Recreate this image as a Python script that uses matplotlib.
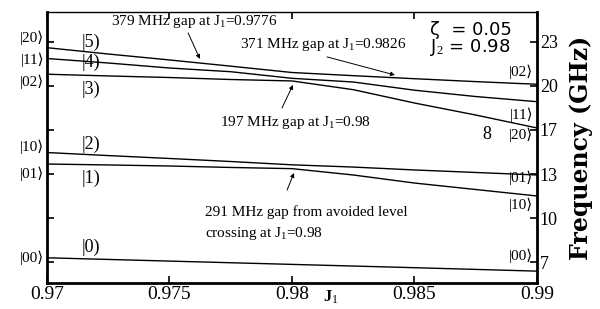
import matplotlib
matplotlib.use("Agg")
import matplotlib.pyplot as plt
import numpy as np

# J1 sample points
j1 = [0.970, 0.9725, 0.975, 0.9775, 0.980, 0.9825, 0.985, 0.9875, 0.990]

# eigen-levels (GHz)
lev5 = [22.90, 22.42, 21.97, 21.50, 21.02, 20.78, 20.55, 20.33, 20.13]
lev4 = [22.08, 21.74, 21.36, 21.08, 20.58, 20.30, 19.68, 19.20, 18.81]
lev3 = [20.89, 20.76, 20.64, 20.49, 20.38, 19.72, 18.71, 17.80, 16.82]
lev2 = [14.96, 14.73, 14.51, 14.28, 14.03, 13.86, 13.64, 13.45, 13.26]
lev1 = [14.09, 14.02, 13.94, 13.83, 13.74, 13.26, 12.65, 12.16, 11.67]
j1_0 = [0.970, 0.975, 0.980, 0.985, 0.990]
lev0 = [6.99, 6.74, 6.49, 6.24, 5.98]

# right axis ticks (GHz) and their labels
ytick_pos = [20/3, 10, 40/3, 50/3, 20, 70/3]
ytick_lab = ["7", "10", "13", "17", "20", "23"]
xticks = [0.97, 0.975, 0.98, 0.985, 0.99]
xtick_lab = ["0.97", "0.975", "0.98", "0.985", "0.99"]

# state labels
left_out = ["|20⟩", "|11⟩", "|02⟩", "|10⟩", "|01⟩", "|00⟩"]
left_out_y = [23.64, 21.97, 20.30, 15.38, 13.33, 6.97]
left_in = ["|5)", "|4)", "|3)", "|2)", "|1)", "|0)"]
left_in_y = [23.33, 21.82, 19.77, 15.61, 13.03, 7.80]
right_in = ["|02⟩", "|11⟩", "|20⟩", "|01⟩", "|10⟩", "|00⟩"]
right_in_y = [21.06, 17.80, 16.29, 13.03, 10.98, 7.12]

serif = ["Liberation Serif", "DejaVu Serif", "DejaVu Sans"]
plt.rcParams["font.family"] = serif
plt.rcParams["mathtext.fontset"] = "custom"
plt.rcParams["mathtext.rm"] = "Liberation Serif"
plt.rcParams["mathtext.it"] = "Liberation Serif"

fig = plt.figure(figsize=(6, 3.09), dpi=100)
ax = fig.add_axes([0.0783, 0.0841, 0.8167, 0.8770])

for lv in [lev5, lev4, lev3, lev2, lev1]:
    ax.plot(j1, lv, color="black", lw=1.0)
ax.plot(j1_0, lev0, color="black", lw=1.0)

ax.set_xlim(0.97, 0.99)
ax.set_ylim(5.08, 25.6)

ax.set_xticks(xticks)
ax.set_xticklabels(xtick_lab, fontsize=14)
ax.set_yticks(ytick_pos)
ax.set_yticklabels(ytick_lab, fontsize=13)
ax.tick_params(axis="both", direction="in", length=5, width=1.2, pad=2)
ax.tick_params(axis="x", top=True, bottom=True)
ax.tick_params(axis="y", left=True, right=True, labelleft=False, labelright=True)

for s in ["left", "right", "bottom"]:
    ax.spines[s].set_linewidth(2)
ax.spines["top"].set_linewidth(1)

ax.yaxis.set_label_position("right")
ax.set_ylabel("Frequency (GHz)", family="DejaVu Serif", fontweight="bold",
              fontsize=17, labelpad=8)
# x label sits between the tick labels, close to the axis
ax.text(0.58, -0.02, "J$_1$", transform=ax.transAxes, fontsize=12,
        fontweight="bold", ha="center", va="top")

# state labels
for t, y in zip(left_out, left_out_y):
    ax.text(0.96988, y, t, ha="right", va="center", fontsize=11, clip_on=False)
for t, y in zip(left_in, left_in_y):
    ax.text(0.97143, y, t, ha="left", va="center", fontsize=13)
for t, y in zip(right_in, right_in_y):
    ax.text(0.98984, y, t, ha="right", va="center", fontsize=11)
ax.text(0.98796, 16.29, "8", ha="center", va="center", fontsize=13)

ax.text(0.98563, 24.24, "ζ  = 0.05", family="DejaVu Sans", fontsize=13,
        ha="left", va="center")
ax.text(0.98563, 22.88, "J$_2$ = 0.98", family="DejaVu Sans", fontsize=13,
        ha="left", va="center")

arr = dict(arrowstyle="-|>", color="black", lw=0.7, mutation_scale=6,
           shrinkA=0, shrinkB=0)

# gap annotations
ax.annotate("", xy=(0.97624, 22.05), xytext=(0.97576, 24.02), arrowprops=arr)
ax.text(0.97600, 24.85, "379 MHz gap at J$_1$=0.9776", fontsize=11,
        ha="center", va="center")

ax.annotate("", xy=(0.98420, 20.83), xytext=(0.98143, 22.20), arrowprops=arr)
ax.text(0.98127, 23.11, "371 MHz gap at J$_1$=0.9826", fontsize=11,
        ha="center", va="center")

ax.annotate("", xy=(0.98004, 20.08), xytext=(0.97959, 18.33), arrowprops=arr)
ax.text(0.98016, 17.20, "197 MHz gap at J$_1$=0.98", fontsize=11,
        ha="center", va="center")

ax.annotate("", xy=(0.98008, 13.41), xytext=(0.97980, 12.12), arrowprops=arr)
ax.text(0.97645, 10.45, "291 MHz gap from avoided level", fontsize=11,
        ha="left", va="center")
ax.text(0.97645, 8.86, "crossing at J$_1$=0.98", fontsize=11,
        ha="left", va="center")

fig.savefig("out.png", dpi=100)
